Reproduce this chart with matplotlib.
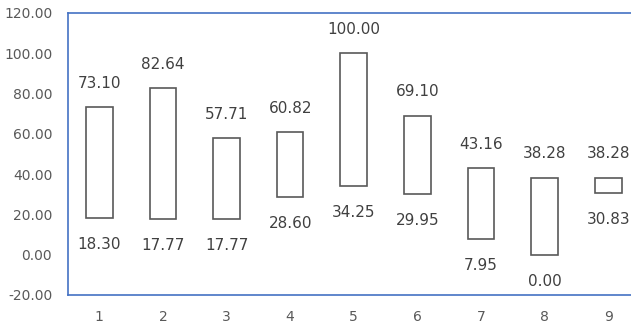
import matplotlib.pyplot as plt
from matplotlib.ticker import FormatStrFormatter

# data
categorias = [1, 2, 3, 4, 5, 6, 7, 8, 9]
minimos = [18.30, 17.77, 17.77, 28.60, 34.25, 29.95, 7.95, 0.00, 30.83]
maximos = [73.10, 82.64, 57.71, 60.82, 100.00, 69.10, 43.16, 38.28, 38.28]

AZUL = "#4472C4"
CINZA = "#595959"

fig = plt.figure(figsize=(6.31, 3.27), dpi=100)
# axes extend a bit past the right edge, like the original
ax = fig.add_axes([67.5 / 631, 32 / 327, 572.5 / 631, 282 / 327])

alturas = [mx - mn for mn, mx in zip(minimos, maximos)]
ax.bar(categorias, alturas, bottom=minimos, width=0.42,
       color="white", edgecolor=CINZA, linewidth=1.2, zorder=3)

for x, mn, mx in zip(categorias, minimos, maximos):
    ax.annotate(f"{mx:.2f}", (x, mx), xytext=(0, 17), textcoords="offset points",
                ha="center", va="center", fontsize=11, color="#404040")
    ax.annotate(f"{mn:.2f}", (x, mn), xytext=(0, -19), textcoords="offset points",
                ha="center", va="center", fontsize=11, color="#404040")

ax.set_xlim(0.5, 9.5)
ax.set_ylim(-20, 120)
ax.set_yticks(range(-20, 121, 20))
ax.set_xticks(categorias)
ax.yaxis.set_major_formatter(FormatStrFormatter("%.2f"))

for lado in ["left", "right", "top", "bottom"]:
    ax.spines[lado].set_color(AZUL)
    ax.spines[lado].set_linewidth(1.2)

ax.tick_params(length=0, labelsize=10, labelcolor=CINZA)
ax.tick_params(axis="x", pad=11)
ax.tick_params(axis="y", pad=11)

fig.savefig("out.png", dpi=100)
